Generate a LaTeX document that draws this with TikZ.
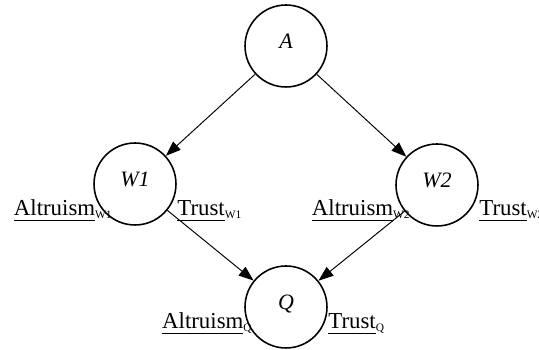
\documentclass[tikz,border=0pt]{standalone}
\usepackage{fontspec}
\setmainfont{Liberation Serif}
\usepackage{tikz}
\usetikzlibrary{arrows.meta}
\definecolor{ink}{HTML}{000000}
\newcommand{\ulword}[1]{{\setbox0\hbox{#1}\rlap{\rule[-3pt]{\wd0}{0.55pt}}\box0}}
\newcommand{\attr}[2]{\ulword{#1}\raisebox{-1.2pt}{\fontsize{6.5}{7}\selectfont #2}}
\tikzset{
  agent/.style={circle,draw=ink,line width=0.9pt,minimum size=1.64cm,inner sep=0pt,
    font=\fontsize{12.5}{14}\selectfont\itshape,text height=0.28cm,text depth=0.16cm},
  arr/.style={-{Triangle[length=0.3cm,width=0.22cm]},line width=0.55pt,color=ink},
  lbl/.style={font=\fontsize{13}{15}\selectfont,inner sep=0pt}}
\begin{document}
\begin{tikzpicture}[x=0.02cm,y=-0.02cm]
\useasboundingbox (0,0) rectangle (539,350);
\node[agent] (A) at (286,46) {A};
\node[agent] (W1) at (135,184) {W1};
\node[agent] (W2) at (437,185) {W2};
\node[agent] (Q) at (286,307) {Q};
% attributes
\node[lbl,anchor=base east] (altw1) at (112,216) {\attr{Altruism}{W1}};
\node[lbl,anchor=base west] (trw1) at (177,216) {\attr{Trust}{W1}};
\node[lbl,anchor=base east] (altw2) at (410,216) {\attr{Altruism}{W2}};
\node[lbl,anchor=base west] (trw2) at (479,216) {\attr{Trust}{W2}};
\node[lbl,anchor=base east] (altq) at (252,329) {\attr{Altruism}{Q}};
\node[lbl,anchor=base west] (trq) at (328,329) {\attr{Trust}{Q}};
\draw[arr] (A) -- (W1); \draw[arr] (A) -- (W2);
\draw[arr] (W1) -- (Q); \draw[arr] (W2) -- (Q);
\end{tikzpicture}
\end{document}
